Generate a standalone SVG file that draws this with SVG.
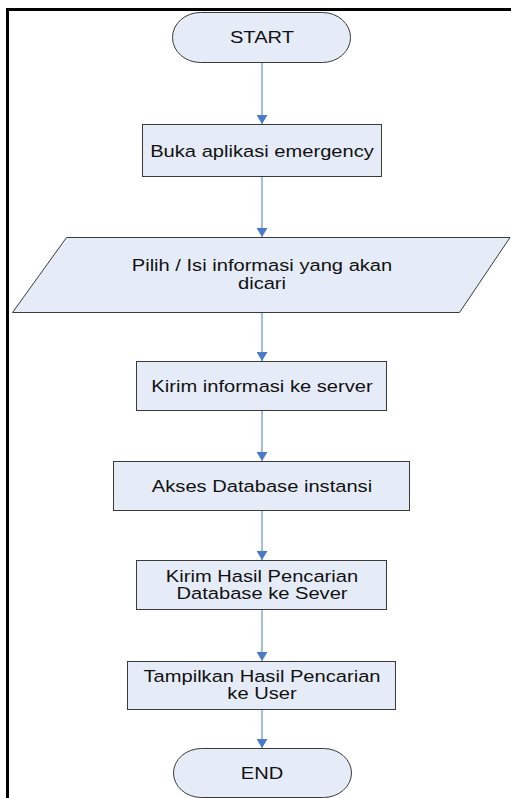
<svg xmlns="http://www.w3.org/2000/svg" width="511" height="798" viewBox="0 0 511 798">
<style>
.shape{fill:#E6ECF7;stroke:#3a3a3a;stroke-width:1}
.lbl{font-family:"Liberation Sans",Arial,sans-serif;font-size:16.5px;fill:#111;text-anchor:middle}
.conn{stroke:#86A6DA;stroke-width:1.5;fill:none;marker-end:url(#ah)}
</style>
<defs>
<marker id="ah" viewBox="0 0 9 11" refX="9" refY="5.5" markerWidth="9" markerHeight="11" markerUnits="userSpaceOnUse" orient="auto">
<path d="M0,0 L9,5.5 L0,11 z" fill="#4A7BC8"/>
</marker>
</defs>
<rect width="511" height="798" fill="#fff"/>
<path d="M7.5,798 V9.5 H511" fill="none" stroke="#000" stroke-width="3"/>
<g id="connectors">
<line class="conn" x1="262" y1="63" x2="262" y2="124"/>
<line class="conn" x1="262" y1="177" x2="262" y2="237"/>
<line class="conn" x1="262" y1="313" x2="262" y2="361"/>
<line class="conn" x1="262" y1="411" x2="262" y2="461"/>
<line class="conn" x1="262" y1="511" x2="262" y2="560"/>
<line class="conn" x1="262" y1="610" x2="262" y2="661"/>
<line class="conn" x1="262" y1="710" x2="262" y2="748"/>
</g>
<g id="start">
<rect class="shape" x="172.5" y="12.5" width="178" height="50" rx="28" ry="25"/>
<g transform="translate(262,0) scale(1.22,1)"><text class="lbl" x="0" y="43">START</text></g>
</g>
<g id="buka">
<rect class="shape" x="142.5" y="124.5" width="239" height="52"/>
<g transform="translate(262,0) scale(1.22,1)"><text class="lbl" x="0" y="157">Buka aplikasi emergency</text></g>
</g>
<g id="pilih">
<polygon class="shape" points="66.5,237.5 510,237.5 459.5,312.5 12.5,312.5"/>
<g transform="translate(262,0) scale(1.22,1)"><text class="lbl" x="0" y="271">Pilih / Isi informasi yang akan</text><text class="lbl" x="0" y="289">dicari</text></g>
</g>
<g id="kirim">
<rect class="shape" x="136.5" y="361.5" width="250" height="49"/>
<g transform="translate(262,0) scale(1.22,1)"><text class="lbl" x="0" y="392">Kirim informasi ke server</text></g>
</g>
<g id="akses">
<rect class="shape" x="113.5" y="461.5" width="296" height="49"/>
<g transform="translate(262,0) scale(1.22,1)"><text class="lbl" x="0" y="492">Akses Database instansi</text></g>
</g>
<g id="hasil">
<rect class="shape" x="136.5" y="560.5" width="250" height="49"/>
<g transform="translate(262,0) scale(1.22,1)"><text class="lbl" x="0" y="582">Kirim Hasil Pencarian</text><text class="lbl" x="0" y="599">Database ke Sever</text></g>
</g>
<g id="tampil">
<rect class="shape" x="127.5" y="661.5" width="268" height="48"/>
<g transform="translate(262,0) scale(1.22,1)"><text class="lbl" x="0" y="682">Tampilkan Hasil Pencarian</text><text class="lbl" x="0" y="699">ke User</text></g>
</g>
<g id="end">
<rect class="shape" x="173.5" y="748.5" width="178" height="49" rx="28" ry="24.5"/>
<g transform="translate(262,0) scale(1.22,1)"><text class="lbl" x="0" y="779">END</text></g>
</g>
</svg>
